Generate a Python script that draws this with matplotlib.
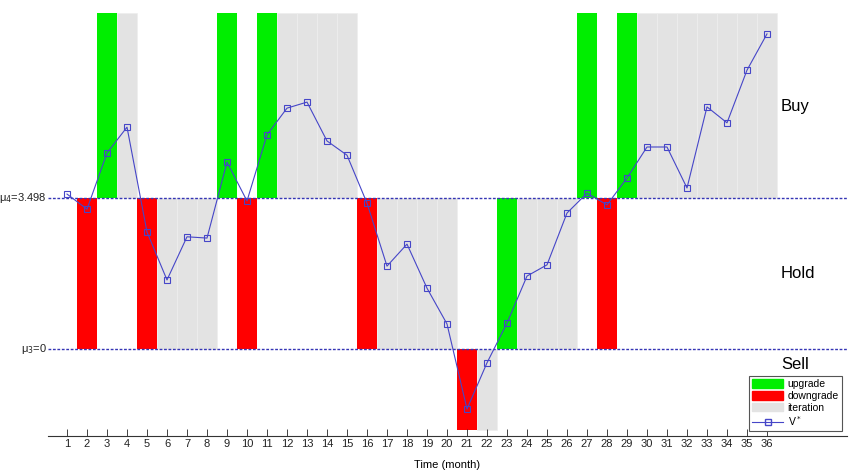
import matplotlib
matplotlib.use('Agg')
import matplotlib.pyplot as plt
from matplotlib.patches import Patch
from matplotlib.lines import Line2D
import numpy as np

plt.rcParams['font.family'] = ['Liberation Sans', 'DejaVu Sans']

## data
months = np.arange(1, 37)
v_star = [3.59, 3.24, 4.54, 5.14, 2.71, 1.60, 2.60, 2.57, 4.33, 3.43,
          4.96, 5.58, 5.72, 4.82, 4.49, 3.38, 1.92, 2.43, 1.41, 0.58,
          -1.39, -0.32, 0.60, 1.69, 1.95, 3.15, 3.61, 3.34, 3.96, 4.68,
          4.68, 3.73, 5.61, 5.24, 6.46, 7.30]
mu4 = 3.498
mu3 = 0.0
buy_top = 7.78
sell_bottom = -1.88

# months with a bar, per region
buy_upgrade = [3, 9, 11, 27, 29]
buy_iteration = [4, 12, 13, 14, 15, 30, 31, 32, 33, 34, 35, 36]
hold_upgrade = [23]
hold_downgrade = [2, 5, 10, 16, 28]
hold_iteration = [6, 7, 8, 17, 18, 19, 20, 24, 25, 26]
sell_downgrade = [21]
sell_iteration = [22]

green = '#00ee00'
red = '#ff0000'
grey = '#e3e3e3'
blue = '#4646c8'

fig = plt.figure(figsize=(8.52, 4.74), dpi=100)
ax = fig.add_axes([48/852, 38/474, 799/852, 423/474])

w = 0.96
gkw = dict(width=0.98, color=grey, edgecolor='#eeeeee', linewidth=0.5)
ax.bar(buy_iteration, buy_top - mu4, bottom=mu4, **gkw)
ax.bar(hold_iteration, mu4 - mu3, bottom=mu3, **gkw)
ax.bar(sell_iteration, mu3 - sell_bottom, bottom=sell_bottom, **gkw)
ax.bar(buy_upgrade, buy_top - mu4, bottom=mu4, width=w, color=green)
ax.bar(hold_upgrade, mu4 - mu3, bottom=mu3, width=w, color=green)
ax.bar(hold_downgrade, mu4 - mu3, bottom=mu3, width=w, color=red)
ax.bar(sell_downgrade, mu3 - sell_bottom, bottom=sell_bottom, width=w, color=red)

## threshold lines
for m in [mu4, mu3]:
    ax.axhline(m, color='#3535b5', lw=1.0, ls=(0, (2, 1.2)), zorder=3)

ax.plot(months, v_star, color=blue, lw=0.8, marker='s', ms=5,
        mfc='none', mec=blue, mew=0.8, zorder=4)

ax.text(0.0, mu4, 'μ$_4$=3.498', ha='right', va='center', fontsize=8,
        color='#222222', clip_on=False)
ax.text(0.0, mu3, 'μ$_3$=0', ha='right', va='center', fontsize=8,
        color='#222222', clip_on=False)

ax.text(36.7, 5.61, 'Buy', fontsize=12, va='center')
ax.text(36.7, 1.74, 'Hold', fontsize=12, va='center')
ax.text(36.7, -0.36, 'Sell', fontsize=12, va='center')

ax.set_xlim(0.05, 40.0)
ax.set_ylim(-2.015, 7.784)
ax.set_xticks(months)
ax.set_yticks([])
for s in ['left', 'right', 'top']:
    ax.spines[s].set_visible(False)
ax.spines['bottom'].set_color('#333333')
ax.spines['bottom'].set_linewidth(0.8)
ax.tick_params(axis='x', direction='in', length=5, width=0.6, pad=2,
               labelsize=8, colors='#222222')
ax.set_xlabel('Time (month)', fontsize=8, labelpad=8)

handles = [Patch(color=green, label='upgrade'),
           Patch(color=red, label='downgrade'),
           Patch(color=grey, label='iteration'),
           Line2D([], [], color=blue, lw=0.8, marker='s', ms=5, mfc='none',
                  mec=blue, label='V$^*$')]
leg = fig.legend(handles=handles, loc='lower right',
                 bbox_to_anchor=(842/852, 43/474), fontsize=7.5,
                 fancybox=False, edgecolor='#555555', framealpha=1,
                 handlelength=3.0, handleheight=0.9, labelspacing=0.15,
                 borderpad=0.3, handletextpad=0.4, borderaxespad=0)
leg.get_frame().set_linewidth(0.8)

plt.savefig('out.png', dpi=100)
